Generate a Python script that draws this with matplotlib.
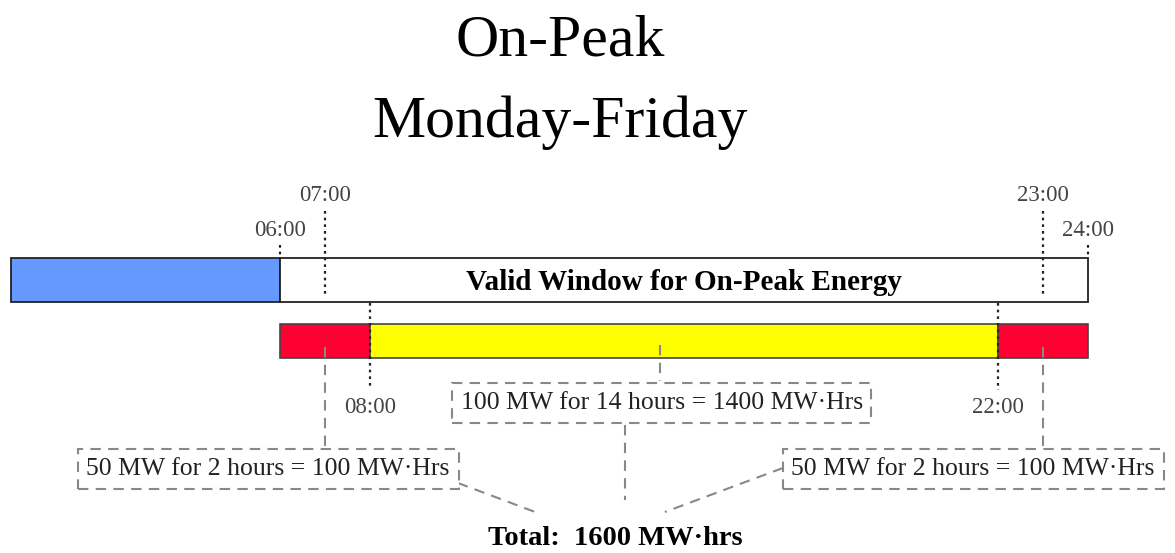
import matplotlib
matplotlib.use("Agg")
import matplotlib.pyplot as plt

# timeline data (hours of the day)
window_segments = [(0, 6, "#6699ff"), (6, 24, "white")]
energy_segments = [(6, 8, "#ff0033"), (8, 22, "#ffff00"), (22, 24, "#ff0033")]
hour_labels_top = [(6, "06:00", 236), (7, "07:00", 201), (23, "23:00", 201), (24, "24:00", 236)]
hour_labels_bottom = [(8, "08:00", 413), (22, "22:00", 413)]
# dotted hour markers: hour, y from, y to
hour_markers = [(6, 245, 258), (7, 211, 296), (23, 211, 296), (24, 245, 258),
                (8, 303, 388), (22, 303, 390)]

block_texts = ["50 MW for 2 hours = 100 MW\u00b7Hrs",
               "100 MW for 14 hours = 1400 MW\u00b7Hrs",
               "50 MW for 2 hours = 100 MW\u00b7Hrs"]
block_pos = [(5.73, 469), (14.5, 403), (21.44, 469)]
# dashed connectors (hours, y)
connectors = [([7, 7], [347, 448]),
              ([14.47, 14.47], [345, 381]),
              ([23, 23], [347, 448]),
              ([13.68, 13.68], [425, 500]),
              ([9.96, 11.74], [483, 513]),
              ([17.2, 14.57], [468, 512])]
total_text = "Total:  1600 MW\u00b7hrs"

px_per_hour = 1077 / 24

fig = plt.figure(figsize=(11.75, 5.53), dpi=100)
ax = fig.add_axes([0, 0, 1, 1])
ax.set_xlim(-11 / px_per_hour, 24 + 87 / px_per_hour)
ax.set_ylim(553, 0)
ax.axis("off")

serif = "Liberation Serif"

ax.text(12.23, 55, "On-Peak", ha="center", va="baseline", fontsize=43, family=serif)
ax.text(12.23, 137, "Monday-Friday", ha="center", va="baseline", fontsize=43, family=serif)

for s, e, c in window_segments:
    ax.barh(280, e - s, left=s, height=44, color=c, edgecolor="#222", linewidth=1.3, zorder=2)
for s, e, c in energy_segments:
    ax.barh(341, e - s, left=s, height=34, color=c, edgecolor="#444", linewidth=1.2, zorder=2)

ax.text(15, 290, "Valid Window for On-Peak Energy", ha="center", va="baseline",
        fontsize=21, fontweight="bold", family=serif, zorder=4)

for h, lab, y in hour_labels_top + hour_labels_bottom:
    ax.text(h, y, lab, ha="center", va="baseline", fontsize=16.5, family=serif, color="#444")

for h, y0, y1 in hour_markers:
    ax.plot([h, h], [y0, y1], color="#222", linestyle=(0, (1.2, 1.8)), linewidth=1.6, zorder=3)

for xs, ys in connectors:
    ax.plot(xs, ys, color="#888", linestyle=(0, (5, 3.5)), linewidth=1.5, zorder=3)

for txt, (h, y) in zip(block_texts, block_pos):
    ax.text(h, y, txt, ha="center", va="center", fontsize=18.5, family=serif, color="#222", zorder=5,
            bbox=dict(boxstyle="square,pad=0.34", facecolor="white", edgecolor="#888",
                      linestyle=(0, (5, 3.5)), linewidth=1.5))

ax.text(13.47, 545, total_text, ha="center", va="baseline", fontsize=20.5,
        fontweight="bold", family=serif)

fig.savefig("out.png", dpi=100)
